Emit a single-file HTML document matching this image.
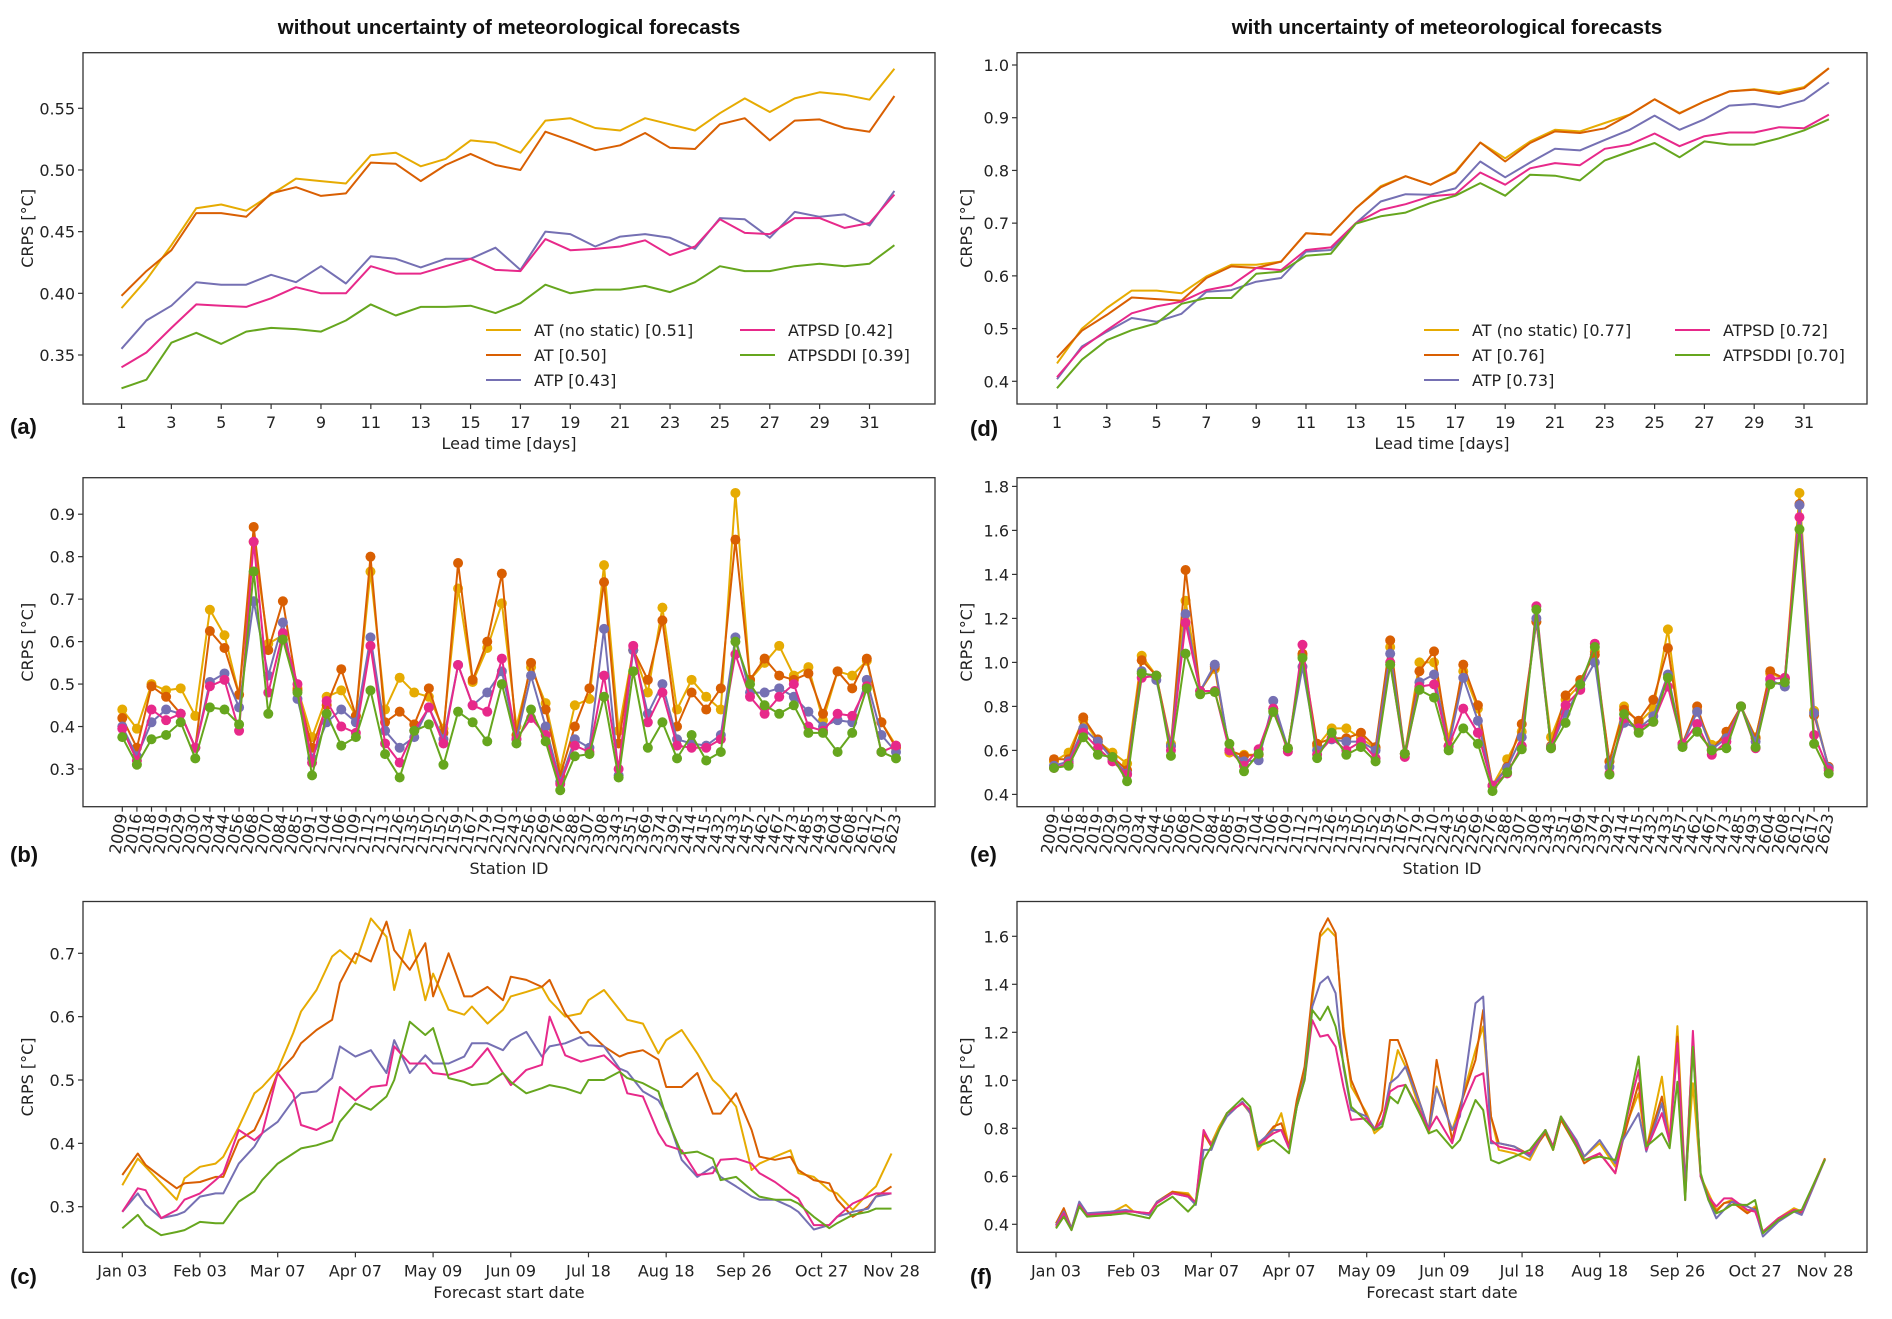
<!DOCTYPE html>
<html><head><meta charset="utf-8"><style>
html,body{margin:0;padding:0;background:#fff;}
svg{display:block;font-family:"DejaVu Sans","Liberation Sans",sans-serif;}
.t{font-size:16px;fill:#222;}
.ttl{font-family:"Liberation Sans",sans-serif;font-weight:bold;font-size:20.5px;fill:#111;}
.pl{font-family:"Liberation Sans",sans-serif;font-weight:bold;font-size:22px;fill:#111;}
</style></head><body>
<svg id="fig" width="1892" height="1319" viewBox="0 0 1892 1319" xmlns="http://www.w3.org/2000/svg">
<text class="ttl" x="509" y="34" text-anchor="middle">without uncertainty of meteorological forecasts</text>
<text class="ttl" x="1447" y="34" text-anchor="middle">with uncertainty of meteorological forecasts</text>
</svg>
<script>
const seriesNames = ["AT (no static)","AT","ATP","ATPSD","ATPSDDI"];
const seriesColors = ["#e6ab02","#d95f02","#7570b3","#e7298a","#66a61e"];
const legendScoresA = ["0.51","0.50","0.43","0.42","0.39"];
const legendScoresD = ["0.77","0.76","0.73","0.72","0.70"];
const leadDays = [1,2,3,4,5,6,7,8,9,10,11,12,13,14,15,16,17,18,19,20,21,22,23,24,25,26,27,28,29,30,31,32];
const leadTicks = [1,3,5,7,9,11,13,15,17,19,21,23,25,27,29,31];
const aNS = [.388,.411,.439,.469,.472,.467,.480,.493,.491,.489,.512,.514,.503,.509,.524,.522,.514,.540,.542,.534,.532,.542,.537,.532,.546,.558,.547,.558,.563,.561,.557,.582];
const aAT = [.398,.418,.435,.465,.465,.462,.481,.486,.479,.481,.506,.505,.491,.504,.513,.504,.500,.531,.524,.516,.520,.530,.518,.517,.537,.542,.524,.540,.541,.534,.531,.560];
const aATP = [.355,.378,.390,.409,.407,.407,.415,.409,.422,.408,.430,.428,.421,.428,.428,.437,.419,.450,.448,.438,.446,.448,.445,.436,.461,.460,.445,.466,.462,.464,.455,.483];
const aPSD = [.340,.352,.372,.391,.390,.389,.396,.405,.400,.400,.422,.416,.416,.422,.428,.419,.418,.444,.435,.436,.438,.443,.431,.438,.460,.449,.448,.461,.461,.453,.457,.480];
const aDDI = [.323,.330,.360,.368,.359,.369,.372,.371,.369,.378,.391,.382,.389,.389,.390,.384,.392,.407,.400,.403,.403,.406,.401,.409,.422,.418,.418,.422,.424,.422,.424,.439];
const dNS = [.434,.500,.539,.572,.572,.567,.599,.621,.621,.627,.681,.678,.728,.770,.789,.773,.798,.853,.823,.855,.877,.874,.890,.906,.935,.909,.931,.950,.954,.948,.958,.994];
const dAT = [.445,.496,.526,.559,.556,.553,.596,.618,.615,.627,.681,.678,.728,.768,.789,.773,.796,.853,.817,.852,.874,.871,.880,.906,.935,.908,.931,.950,.953,.945,.956,.994];
const dATP = [.404,.466,.494,.520,.513,.528,.570,.573,.589,.596,.646,.649,.700,.741,.755,.754,.766,.817,.787,.815,.841,.838,.858,.877,.904,.877,.897,.923,.926,.920,.933,.967];
const dPSD = [.408,.463,.497,.529,.542,.551,.573,.582,.615,.611,.649,.654,.700,.725,.736,.751,.755,.796,.773,.804,.814,.810,.841,.849,.870,.846,.865,.872,.872,.882,.880,.906];
const dDDI = [.387,.441,.478,.497,.510,.547,.558,.558,.604,.608,.638,.642,.699,.713,.720,.738,.752,.776,.752,.792,.790,.781,.819,.836,.852,.825,.855,.849,.849,.861,.876,.897];
const stations = ["2009","2016","2018","2019","2029","2030","2034","2044","2056","2068","2070","2084","2085","2091","2104","2106","2109","2112","2113","2126","2135","2150","2152","2159","2167","2179","2210","2243","2256","2269","2276","2288","2307","2308","2343","2351","2369","2374","2392","2414","2415","2432","2433","2457","2462","2467","2473","2485","2493","2604","2608","2612","2617","2623"];
const bNS = [.44,.395,.50,.485,.49,.425,.675,.615,.475,.835,.595,.615,.49,.375,.47,.485,.425,.765,.44,.515,.48,.47,.395,.725,.505,.585,.69,.40,.54,.455,.30,.45,.465,.78,.39,.58,.48,.68,.44,.51,.47,.44,.95,.51,.55,.59,.52,.54,.415,.53,.52,.555,.41,.355];
const bAT = [.42,.35,.495,.47,.43,.35,.625,.585,.475,.87,.58,.695,.485,.35,.45,.535,.425,.80,.41,.435,.405,.49,.385,.785,.51,.60,.76,.38,.55,.44,.285,.40,.49,.74,.36,.58,.51,.65,.40,.48,.44,.49,.84,.51,.56,.52,.51,.525,.43,.53,.49,.56,.41,.35];
const bATP = [.40,.33,.41,.44,.43,.35,.505,.525,.445,.695,.52,.645,.465,.325,.41,.44,.41,.61,.39,.35,.375,.445,.37,.545,.45,.48,.53,.37,.52,.40,.27,.37,.35,.63,.285,.58,.43,.50,.37,.36,.355,.38,.61,.48,.48,.49,.47,.435,.40,.415,.41,.51,.38,.34];
const bPSD = [.395,.32,.44,.415,.43,.35,.495,.51,.39,.835,.48,.62,.50,.315,.46,.40,.385,.59,.36,.315,.39,.445,.36,.545,.45,.435,.56,.37,.42,.38,.265,.355,.34,.52,.30,.59,.41,.48,.355,.35,.35,.37,.57,.47,.43,.47,.50,.40,.39,.43,.425,.495,.34,.355];
const bDDI = [.375,.31,.37,.38,.41,.325,.445,.44,.405,.765,.43,.605,.48,.285,.43,.355,.375,.485,.335,.28,.39,.405,.31,.435,.41,.365,.50,.36,.44,.365,.25,.33,.335,.47,.28,.53,.35,.41,.325,.38,.32,.34,.60,.50,.45,.43,.45,.385,.385,.34,.385,.49,.34,.325];
const eNS = [.55,.59,.74,.64,.59,.54,1.03,.94,.63,1.28,.87,.97,.59,.58,.58,.78,.61,1.03,.62,.70,.70,.655,.61,1.07,.585,1.00,1.00,.655,.96,.79,.44,.56,.685,1.185,.66,.83,.90,1.05,.55,.80,.725,.79,1.15,.63,.78,.625,.66,.80,.66,.95,.925,1.77,.78,.52];
const eAT = [.56,.56,.75,.65,.57,.51,1.01,.94,.62,1.42,.87,.98,.60,.575,.58,.79,.61,1.04,.63,.655,.655,.68,.615,1.10,.585,.96,1.05,.62,.99,.805,.44,.525,.72,1.185,.62,.85,.92,1.035,.55,.785,.735,.83,1.065,.63,.80,.60,.685,.80,.655,.96,.925,1.72,.76,.525];
const eATP = [.53,.55,.70,.64,.56,.495,.96,.92,.62,1.22,.87,.99,.60,.55,.555,.825,.61,.98,.60,.65,.64,.64,.60,1.04,.585,.91,.945,.62,.93,.735,.44,.52,.66,1.20,.615,.77,.88,1.00,.525,.725,.70,.755,.945,.625,.775,.605,.655,.80,.64,.92,.89,1.715,.77,.52];
const ePSD = [.52,.54,.68,.61,.55,.49,.93,.94,.60,1.18,.87,.87,.60,.53,.605,.79,.595,1.08,.58,.655,.60,.64,.565,1.00,.57,.89,.90,.62,.79,.68,.44,.495,.62,1.255,.61,.805,.875,1.085,.495,.745,.70,.73,.89,.63,.72,.58,.64,.80,.61,.925,.93,1.66,.67,.51];
const eDDI = [.52,.53,.66,.58,.57,.46,.95,.94,.575,1.04,.855,.865,.63,.505,.585,.775,.61,1.02,.565,.68,.58,.615,.55,.99,.585,.875,.84,.60,.70,.63,.415,.50,.605,1.24,.61,.725,.90,1.07,.49,.765,.68,.73,.93,.615,.685,.60,.61,.80,.615,.90,.91,1.605,.63,.495];
const dateTickIdx = [0,10,20,30,40,50,60,70,80,90,99];
const dateTickLabels = ["Jan 03","Feb 03","Mar 07","Apr 07","May 09","Jun 09","Jul 18","Aug 18","Sep 26","Oct 27","Nov 28"];
const cIdx = [0,2,3,5,7,8,10,12,13,15,17,18,20,22,23,25,27,28,30,32,34,35,37,39,40,42,44,45,47,49,50,52,54,55,57,59,60,62,64,65,67,69,70,72,74,76,77,79,81,82,84,86,87,89,91,92,94,96,97,99];
const cNS = [.334,.376,.363,.337,.311,.345,.363,.368,.379,.426,.479,.489,.516,.574,.608,.642,.695,.705,.684,.755,.726,.642,.737,.626,.668,.611,.603,.616,.589,.611,.632,.639,.647,.626,.600,.605,.626,.642,.611,.595,.589,.542,.563,.579,.542,.500,.489,.458,.358,.368,.379,.389,.353,.347,.326,.321,.295,.321,.332,.384];
const cAT = [.350,.384,.366,.347,.329,.337,.339,.347,.347,.405,.421,.447,.511,.537,.558,.579,.595,.653,.700,.687,.750,.705,.674,.716,.632,.700,.632,.632,.647,.626,.663,.658,.647,.658,.605,.574,.576,.553,.537,.542,.547,.532,.489,.489,.511,.447,.447,.479,.421,.379,.374,.379,.358,.342,.337,.311,.284,.300,.316,.332];
const cATP = [.292,.321,.303,.282,.287,.292,.316,.321,.321,.368,.395,.416,.434,.468,.479,.482,.503,.553,.537,.547,.511,.563,.511,.539,.526,.526,.537,.558,.558,.547,.563,.576,.537,.553,.558,.568,.555,.553,.518,.513,.482,.468,.447,.374,.347,.363,.347,.332,.316,.311,.311,.300,.292,.264,.271,.284,.292,.297,.316,.321];
const cPSD = [.292,.329,.326,.282,.295,.311,.321,.342,.353,.421,.405,.416,.511,.479,.429,.421,.434,.489,.468,.489,.492,.553,.526,.526,.511,.508,.516,.521,.550,.511,.492,.516,.524,.600,.539,.529,.532,.539,.516,.479,.474,.416,.397,.389,.350,.353,.374,.376,.368,.353,.339,.321,.313,.271,.271,.284,.305,.316,.321,.321];
const cDDI = [.266,.287,.271,.255,.260,.263,.276,.274,.274,.308,.324,.342,.368,.384,.392,.397,.405,.434,.463,.453,.474,.500,.592,.571,.582,.503,.497,.492,.495,.511,.497,.479,.487,.492,.487,.479,.500,.500,.513,.503,.495,.482,.442,.384,.387,.376,.342,.347,.326,.316,.311,.311,.305,.284,.266,.274,.287,.292,.297,.297];
const fIdx = [0,1,2,3,4,7,9,10,12,13,15,17,18,19,20,21,22,24,25,26,28,29,30,31,32,33,34,35,36,37,38,40,41,42,43,44,45,47,48,49,51,52,54,55,56,57,59,61,63,64,65,67,68,70,72,73,75,76,78,79,80,81,82,83,84,85,86,87,89,90,91,93,95,96,99];
const fNS = [.397,.453,.383,.488,.432,.446,.481,.453,.446,.494,.536,.529,.488,.779,.738,.807,.863,.904,.863,.710,.793,.863,.724,.904,1.029,1.335,1.599,1.633,1.599,1.224,.974,.863,.779,.807,.974,1.126,1.057,.863,.779,.974,.793,.890,1.126,1.224,.849,.710,.696,.668,.793,.710,.835,.751,.682,.738,.640,.779,.946,.710,1.015,.751,1.226,.571,.988,.599,.529,.460,.488,.501,.453,.474,.363,.425,.467,.453,.675];
const fAT = [.404,.467,.383,.488,.439,.439,.453,.453,.439,.494,.536,.522,.488,.779,.724,.793,.863,.904,.876,.724,.807,.821,.724,.918,1.057,1.363,1.613,1.675,1.613,1.196,1.001,.849,.793,.876,1.168,1.168,1.085,.890,.793,1.085,.751,.890,1.085,1.293,.849,.738,.724,.689,.779,.710,.835,.724,.654,.696,.613,.751,.988,.717,.932,.738,1.182,.557,1.175,.599,.515,.453,.488,.494,.446,.467,.369,.425,.460,.446,.675];
const fATP = [.397,.453,.383,.494,.446,.453,.460,.453,.439,.494,.529,.515,.481,.710,.710,.793,.849,.911,.863,.738,.793,.793,.717,.890,1.015,1.307,1.404,1.432,1.363,1.057,.876,.849,.800,.821,.988,1.015,1.057,.890,.793,.967,.793,.849,1.321,1.349,.738,.738,.724,.682,.793,.724,.849,.751,.682,.751,.654,.751,.863,.703,.904,.738,1.140,.557,1.140,.599,.501,.425,.460,.494,.474,.460,.349,.411,.453,.439,.670];
const fPSD = [.390,.446,.376,.481,.439,.446,.453,.453,.446,.488,.529,.515,.494,.793,.731,.793,.863,.904,.876,.731,.779,.793,.717,.890,1.001,1.251,1.182,1.189,1.140,.974,.835,.842,.793,.835,.953,.974,.981,.863,.793,.849,.738,.863,1.015,1.029,.751,.724,.710,.696,.793,.724,.849,.738,.668,.696,.613,.779,1.043,.710,.863,.744,1.154,.501,1.206,.599,.515,.474,.508,.508,.460,.453,.369,.425,.460,.453,.670];
const fDDI = [.383,.432,.376,.474,.432,.439,.446,.439,.425,.474,.515,.453,.488,.668,.724,.793,.863,.925,.890,.724,.751,.724,.696,.890,1.001,1.293,1.251,1.307,1.224,1.071,.890,.828,.793,.807,.932,.904,.981,.849,.779,.793,.717,.751,.918,.876,.668,.654,.682,.710,.793,.710,.849,.724,.668,.682,.668,.779,1.099,.724,.779,.717,.994,.501,1.140,.613,.501,.446,.460,.481,.481,.501,.363,.418,.453,.460,.670];
const yTicksA = [0.35,0.40,0.45,0.50,0.55];
const yTicksB = [0.3,0.4,0.5,0.6,0.7,0.8,0.9];
const yTicksC = [0.3,0.4,0.5,0.6,0.7];
const yTicksD = [0.4,0.5,0.6,0.7,0.8,0.9,1.0];
const yTicksE = [0.4,0.6,0.8,1.0,1.2,1.4,1.6,1.8];
const yTicksF = [0.4,0.6,0.8,1.0,1.2,1.4,1.6];

const NS = "http://www.w3.org/2000/svg";
const svg = document.getElementById("fig");
function mk(tag, attrs, parent){
  const e = document.createElementNS(NS, tag);
  for (const k in attrs) e.setAttribute(k, attrs[k]);
  (parent||svg).appendChild(e);
  return e;
}
function linScale(d0,d1,r0,r1){ return v => r0 + (v-d0)*(r1-r0)/(d1-d0); }

function panel(p){
  const g = mk("g", {});
  
  
  p.yTicks.forEach((v)=>{
    const y = p.ys(v);
    const tk = mk("line", {x1:p.L-5, x2:p.L, y1:y, y2:y, stroke:"#333", "stroke-width":1.2}, g);
    
    
    const tx = mk("text", {x:p.L-8, y:y+6, "text-anchor":"end", class:"t"}, g);
    
    
    tx.textContent = p.yFmt(v);
  });
  p.xTicks.forEach((v,i)=>{
    const x = p.xs(v);
    const tk = mk("line", {x1:x, x2:x, y1:p.B, y2:p.B+5, stroke:"#333", "stroke-width":1.2}, g);
    
    
    let tx;
    if (p.rot){
      tx = mk("text", {x:0, y:0, "text-anchor":"end", class:"t", "font-size":"14.5px", transform:"translate("+(x+5)+","+(p.B+8)+") rotate(-80)"}, g);
    } else {
      tx = mk("text", {x:x, y:p.B+24, "text-anchor":"middle", class:"t"}, g);
    }
    
    
    tx.textContent = p.xLabels[i];
  });
  p.series.forEach((vals,s)=>{
    const pts = vals.map((v,i)=> p.xs(p.xData[i]).toFixed(1)+","+p.ys(v).toFixed(1)).join(" ");
    const pl = mk("polyline", {points:pts, fill:"none", stroke:seriesColors[s], "stroke-width":2, "stroke-linejoin":"round"}, g);
    
    
    if (p.markers){
      vals.forEach((v,i)=>{
        const c = mk("circle", {cx:p.xs(p.xData[i]), cy:p.ys(v), r:5, fill:seriesColors[s]}, g);
        
        
      });
    }
  });
  const fr = mk("rect", {x:p.L, y:p.T, width:p.R-p.L, height:p.B-p.T, fill:"none", stroke:"#333", "stroke-width":1.3}, g);
  
  
  const yl = mk("text", {x:0, y:0, "text-anchor":"middle", class:"t", transform:"translate("+p.ylX+","+((p.T+p.B)/2)+") rotate(-90)"}, g);
  
  
  yl.textContent = "CRPS [°C]";
  const xl = mk("text", {x:(p.L+p.R)/2, y:p.xlY, "text-anchor":"middle", class:"t"}, g);
  
  
  xl.textContent = p.xTitle;
  const pl = mk("text", {x:p.plX, y:p.plY, class:"pl"}, g);
  
  
  pl.textContent = p.letter;
  if (p.legend){
    const lg = mk("g", {}, g);
    
    
    const pos = [[0,0],[0,1],[0,2],[1,0],[1,1]];
    pos.forEach((cr,s)=>{
      const lx = p.legend.cols[cr[0]], ly = p.legend.y0 + cr[1]*25;
      const ln = mk("line", {x1:lx, x2:lx+35, y1:ly, y2:ly, stroke:seriesColors[s], "stroke-width":2}, lg);
      
      
      const t = mk("text", {x:lx+48, y:ly+6, class:"t"}, lg);
      
      
      t.textContent = seriesNames[s] + " [" + p.legend.scores[s] + "]";
    });
  }
}

const fmt2 = v => v.toFixed(2), fmt1 = v => v.toFixed(1);
const stIdx = stations.map((s,i)=>i);

panel({name:"panel-a-lead-time", L:83,R:935,T:52.7,B:404, ys:linScale(0.35,0.55,355,108.3), xs:linScale(1,31,121.5,869.5),
  yTicks:yTicksA, yFmt:fmt2, xTicks:leadTicks, xLabels:leadTicks.map(String), xData:leadDays,
  series:[aNS,aAT,aATP,aPSD,aDDI], ylX:33, xlY:449, xTitle:"Lead time [days]", letter:"(a)", plX:10, plY:434,
  legend:{cols:[486,740], y0:330, scores:legendScoresA}});
panel({name:"panel-d-lead-time", L:1017,R:1867,T:52.7,B:404, ys:linScale(0.4,1.0,381.3,65), xs:linScale(1,31,1057,1804),
  yTicks:yTicksD, yFmt:fmt1, xTicks:leadTicks, xLabels:leadTicks.map(String), xData:leadDays,
  series:[dNS,dAT,dATP,dPSD,dDDI], ylX:972, xlY:449, xTitle:"Lead time [days]", letter:"(d)", plX:970, plY:436,
  legend:{cols:[1424,1675], y0:330, scores:legendScoresD}});
panel({name:"panel-b-stations", L:83,R:935,T:477.7,B:806.7, ys:linScale(0.3,0.9,769,514.2), xs:linScale(0,53,122.3,896),
  yTicks:yTicksB, yFmt:fmt1, xTicks:stIdx, xLabels:stations, xData:stIdx, rot:true, markers:true,
  series:[bNS,bAT,bATP,bPSD,bDDI], ylX:33, xlY:874, xTitle:"Station ID", letter:"(b)", plX:10, plY:862});
panel({name:"panel-e-stations", L:1017,R:1867,T:477.7,B:806.7, ys:linScale(0.4,1.8,794.4,486.4), xs:linScale(0,53,1054,1828.7),
  yTicks:yTicksE, yFmt:fmt1, xTicks:stIdx, xLabels:stations, xData:stIdx, rot:true, markers:true,
  series:[eNS,eAT,eATP,ePSD,eDDI], ylX:972, xlY:874, xTitle:"Station ID", letter:"(e)", plX:970, plY:862});
panel({name:"panel-c-start-date", L:83,R:935,T:901.5,B:1252.3, ys:linScale(0.3,0.7,1206.7,953.3), xs:linScale(0,99,122.3,891.5),
  yTicks:yTicksC, yFmt:fmt1, xTicks:dateTickIdx, xLabels:dateTickLabels, xData:cIdx,
  series:[cNS,cAT,cATP,cPSD,cDDI], ylX:33, xlY:1298, xTitle:"Forecast start date", letter:"(c)", plX:10, plY:1284});
panel({name:"panel-f-start-date", L:1017,R:1867,T:901.5,B:1252.3, ys:linScale(0.4,1.6,1224.3,936.3), xs:linScale(0,99,1056,1825),
  yTicks:yTicksF, yFmt:fmt1, xTicks:dateTickIdx, xLabels:dateTickLabels, xData:fIdx,
  series:[fNS,fAT,fATP,fPSD,fDDI], ylX:972, xlY:1298, xTitle:"Forecast start date", letter:"(f)", plX:970, plY:1284});
</script>
</body></html>
